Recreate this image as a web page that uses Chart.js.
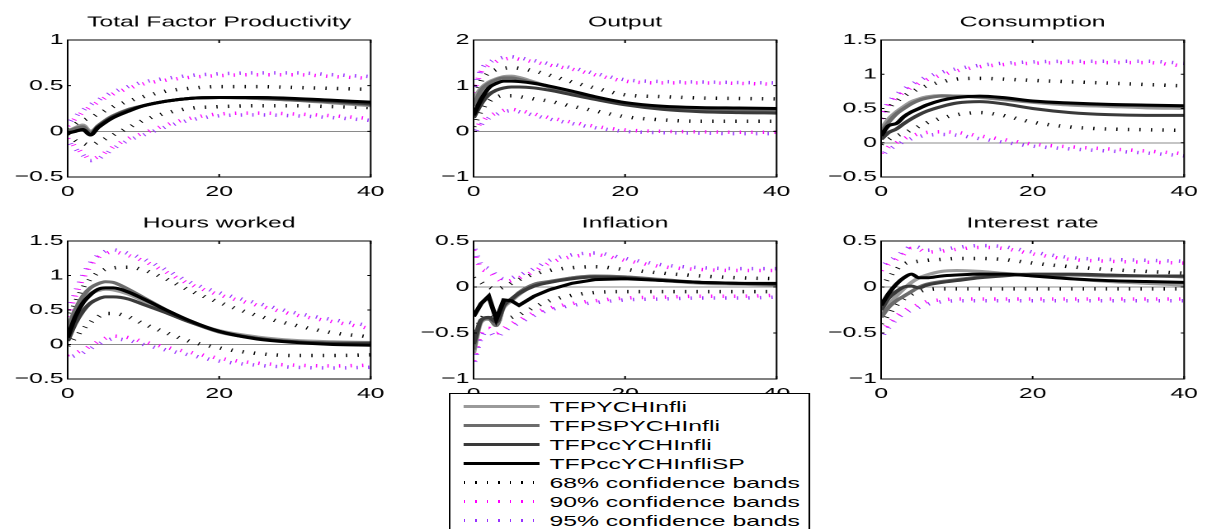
<!DOCTYPE html>
<html>
<head>
<meta charset="utf-8">
<script src="https://cdn.jsdelivr.net/npm/chart.js@4.4.1/dist/chart.umd.min.js"></script>
<style>
  body { margin: 0; background: #fff; overflow: hidden; }
  /* the original figure is stretched sideways, so draw narrow and stretch */
  #fig { position: absolute; left: 0; top: 0; width: 731px; height: 529px; transform: scaleX(1.65); transform-origin: 0 0; }
  .panel { position: absolute; }
  #legend { position: absolute; left: 272px; top: 393px; width: 217px; height: 150px; border: 1px solid #000; background: #fff; font-family: "Liberation Sans", Arial, sans-serif; font-size: 15px; }
  .row { position: absolute; left: 0; height: 19px; }
  .sample { position: absolute; left: 8px; width: 46px; }
  .lbl { position: absolute; left: 60px; top: 0; line-height: 19px; white-space: nowrap; color: #000; }
</style>
</head>
<body>
<div id="fig">
  <div id="legend"></div>
</div>
<script>
const T = [0, 1, 2, 3, 4, 5, 6, 8, 10, 13, 16, 20, 25, 30, 35, 40];

// Total Factor Productivity
const tfpA = [0, 0.04, 0.07, 0.0, 0.05, 0.12, 0.17, 0.23, 0.28, 0.33, 0.36, 0.37, 0.36, 0.34, 0.31, 0.28];
const tfpB = [0, 0.03, 0.05, -0.02, 0.06, 0.12, 0.17, 0.24, 0.28, 0.33, 0.36, 0.37, 0.36, 0.34, 0.32, 0.29];
const tfpC = [-0.02, 0.0, 0.02, -0.04, 0.05, 0.11, 0.16, 0.23, 0.28, 0.33, 0.36, 0.37, 0.37, 0.35, 0.33, 0.3];
const tfpD = [-0.02, 0.0, 0.02, -0.04, 0.04, 0.1, 0.15, 0.22, 0.28, 0.33, 0.36, 0.37, 0.37, 0.36, 0.34, 0.32];
const tfp68Hi = [0.03, 0.08, 0.12, 0.15, 0.19, 0.23, 0.27, 0.33, 0.38, 0.44, 0.47, 0.49, 0.49, 0.48, 0.47, 0.46];
const tfp68Lo = [-0.04, -0.1, -0.13, -0.15, -0.12, -0.08, -0.04, 0.04, 0.12, 0.2, 0.25, 0.27, 0.28, 0.28, 0.27, 0.26];
const tfp90Hi = [0.06, 0.14, 0.21, 0.27, 0.32, 0.37, 0.41, 0.47, 0.52, 0.56, 0.59, 0.61, 0.62, 0.62, 0.6, 0.58];
const tfp90Lo = [-0.08, -0.17, -0.24, -0.3, -0.28, -0.23, -0.17, -0.08, -0.02, 0.07, 0.14, 0.19, 0.2, 0.19, 0.17, 0.14];
const tfp95Hi = [0.08, 0.16, 0.23, 0.29, 0.34, 0.39, 0.43, 0.49, 0.54, 0.58, 0.61, 0.63, 0.64, 0.64, 0.62, 0.6];
const tfp95Lo = [-0.1, -0.19, -0.26, -0.32, -0.3, -0.25, -0.19, -0.1, -0.04, 0.05, 0.12, 0.17, 0.18, 0.17, 0.15, 0.12];

// Output
const outA = [0.7, 0.95, 1.08, 1.15, 1.2, 1.21, 1.18, 1.08, 0.98, 0.85, 0.73, 0.61, 0.53, 0.5, 0.48, 0.47];
const outB = [0.55, 0.9, 1.05, 1.13, 1.17, 1.17, 1.14, 1.06, 0.97, 0.84, 0.72, 0.6, 0.52, 0.49, 0.47, 0.46];
const outC = [0.3, 0.6, 0.8, 0.9, 0.95, 0.97, 0.97, 0.95, 0.9, 0.8, 0.7, 0.58, 0.48, 0.43, 0.41, 0.4];
const outD = [0.35, 0.7, 0.95, 1.05, 1.1, 1.1, 1.09, 1.05, 0.99, 0.88, 0.76, 0.63, 0.55, 0.52, 0.51, 0.5];
const out68Hi = [0.65, 1.1, 1.28, 1.35, 1.38, 1.39, 1.38, 1.32, 1.23, 1.08, 0.95, 0.8, 0.76, 0.73, 0.72, 0.71];
const out68Lo = [0.1, 0.45, 0.65, 0.75, 0.78, 0.78, 0.76, 0.71, 0.66, 0.55, 0.45, 0.32, 0.25, 0.22, 0.22, 0.22];
const out90Hi = [0.85, 1.3, 1.45, 1.53, 1.58, 1.6, 1.58, 1.52, 1.45, 1.36, 1.24, 1.1, 1.06, 1.06, 1.05, 1.03];
const out90Lo = [0.0, 0.2, 0.33, 0.4, 0.46, 0.48, 0.46, 0.38, 0.3, 0.2, 0.11, 0.03, 0.0, -0.01, -0.02, -0.02];
const out95Hi = [0.9, 1.35, 1.5, 1.58, 1.62, 1.63, 1.61, 1.55, 1.48, 1.39, 1.27, 1.13, 1.09, 1.08, 1.07, 1.06];
const out95Lo = [-0.05, 0.15, 0.29, 0.37, 0.43, 0.45, 0.43, 0.35, 0.27, 0.17, 0.08, 0.0, -0.03, -0.04, -0.05, -0.05];

// Consumption
const conA = [0.2, 0.35, 0.45, 0.53, 0.6, 0.64, 0.67, 0.69, 0.68, 0.66, 0.63, 0.59, 0.55, 0.53, 0.51, 0.5];
const conB = [0.15, 0.3, 0.42, 0.5, 0.57, 0.62, 0.65, 0.68, 0.68, 0.67, 0.64, 0.6, 0.57, 0.55, 0.54, 0.53];
const conC = [0.05, 0.15, 0.2, 0.28, 0.35, 0.41, 0.46, 0.53, 0.58, 0.6, 0.57, 0.5, 0.44, 0.41, 0.4, 0.4];
const conD = [0.1, 0.25, 0.28, 0.38, 0.45, 0.5, 0.55, 0.62, 0.66, 0.68, 0.66, 0.61, 0.58, 0.56, 0.55, 0.54];
const con68Hi = [0.25, 0.5, 0.6, 0.68, 0.74, 0.79, 0.83, 0.89, 0.93, 0.94, 0.93, 0.91, 0.89, 0.87, 0.85, 0.83];
const con68Lo = [-0.02, 0.05, 0.1, 0.14, 0.19, 0.24, 0.29, 0.36, 0.41, 0.44, 0.4, 0.3, 0.23, 0.2, 0.19, 0.18];
const con90Hi = [0.35, 0.55, 0.66, 0.74, 0.81, 0.87, 0.92, 0.99, 1.05, 1.11, 1.14, 1.16, 1.17, 1.17, 1.17, 1.12];
const con90Lo = [-0.15, -0.06, 0.0, 0.06, 0.1, 0.13, 0.15, 0.16, 0.15, 0.1, 0.05, -0.02, -0.06, -0.09, -0.12, -0.16];
const con95Hi = [0.4, 0.59, 0.7, 0.78, 0.85, 0.91, 0.96, 1.03, 1.08, 1.13, 1.16, 1.18, 1.19, 1.19, 1.19, 1.16];
const con95Lo = [-0.19, -0.1, -0.04, 0.02, 0.06, 0.09, 0.11, 0.12, 0.11, 0.06, 0.01, -0.05, -0.09, -0.12, -0.15, -0.19];

// Hours worked
const hrsA = [0.25, 0.5, 0.65, 0.74, 0.78, 0.8, 0.79, 0.73, 0.63, 0.48, 0.34, 0.2, 0.11, 0.06, 0.04, 0.03];
const hrsB = [0.2, 0.5, 0.7, 0.82, 0.88, 0.91, 0.9, 0.8, 0.68, 0.5, 0.34, 0.18, 0.09, 0.04, 0.02, 0.01];
const hrsC = [0.05, 0.3, 0.48, 0.6, 0.66, 0.69, 0.69, 0.66, 0.58, 0.46, 0.33, 0.19, 0.09, 0.04, 0.02, 0.02];
const hrsD = [0.1, 0.4, 0.6, 0.72, 0.8, 0.82, 0.82, 0.76, 0.66, 0.5, 0.35, 0.19, 0.08, 0.03, 0.0, -0.01];
const hrs68Hi = [0.35, 0.6, 0.82, 0.95, 1.04, 1.09, 1.11, 1.12, 1.08, 0.95, 0.79, 0.61, 0.42, 0.28, 0.17, 0.11];
const hrs68Lo = [-0.02, 0.1, 0.22, 0.32, 0.4, 0.45, 0.45, 0.4, 0.3, 0.17, 0.05, -0.05, -0.13, -0.16, -0.16, -0.15];
const hrs90Hi = [0.4, 0.7, 0.95, 1.14, 1.26, 1.32, 1.34, 1.29, 1.21, 1.05, 0.88, 0.72, 0.57, 0.43, 0.33, 0.23];
const hrs90Lo = [-0.15, -0.12, -0.08, -0.02, 0.04, 0.09, 0.12, 0.1, 0.04, -0.04, -0.11, -0.2, -0.27, -0.3, -0.31, -0.3];
const hrs95Hi = [0.45, 0.75, 1.0, 1.18, 1.29, 1.35, 1.37, 1.32, 1.24, 1.08, 0.91, 0.75, 0.6, 0.46, 0.36, 0.27];
const hrs95Lo = [-0.19, -0.16, -0.12, -0.06, 0.0, 0.05, 0.08, 0.06, 0.0, -0.08, -0.15, -0.24, -0.3, -0.33, -0.34, -0.33];

// Inflation
const infA = [-0.72, -0.38, -0.35, -0.4, -0.22, -0.15, -0.08, 0.02, 0.05, 0.1, 0.12, 0.11, 0.07, 0.04, 0.03, 0.02];
const infB = [-0.68, -0.36, -0.34, -0.42, -0.2, -0.14, -0.06, 0.03, 0.06, 0.1, 0.12, 0.11, 0.08, 0.05, 0.04, 0.03];
const infC = [-0.62, -0.36, -0.33, -0.38, -0.2, -0.13, -0.07, 0.01, 0.05, 0.09, 0.11, 0.1, 0.07, 0.05, 0.04, 0.03];
const infD = [-0.32, -0.18, -0.1, -0.35, -0.14, -0.15, -0.2, -0.1, -0.03, 0.04, 0.08, 0.09, 0.07, 0.05, 0.04, 0.04];
const inf68Hi = [0.1, 0.05, 0.0, -0.02, 0.0, 0.04, 0.08, 0.14, 0.18, 0.21, 0.22, 0.19, 0.15, 0.12, 0.1, 0.09];
const inf68Lo = [-0.55, -0.35, -0.3, -0.35, -0.35, -0.33, -0.3, -0.22, -0.15, -0.09, -0.06, -0.05, -0.05, -0.05, -0.05, -0.05];
const inf90Hi = [0.4, 0.2, 0.17, 0.1, 0.06, 0.07, 0.1, 0.17, 0.26, 0.33, 0.35, 0.29, 0.22, 0.19, 0.18, 0.18];
const inf90Lo = [-0.8, -0.5, -0.45, -0.5, -0.45, -0.4, -0.36, -0.28, -0.23, -0.18, -0.15, -0.12, -0.11, -0.1, -0.1, -0.09];
const inf95Hi = [0.45, 0.24, 0.2, 0.13, 0.09, 0.1, 0.13, 0.2, 0.29, 0.35, 0.37, 0.31, 0.24, 0.21, 0.2, 0.2];
const inf95Lo = [-0.85, -0.55, -0.49, -0.54, -0.48, -0.43, -0.39, -0.31, -0.25, -0.2, -0.17, -0.14, -0.13, -0.12, -0.12, -0.11];

// Interest rate
const intA = [-0.3, -0.2, -0.1, -0.02, 0.05, 0.1, 0.13, 0.17, 0.18, 0.17, 0.15, 0.13, 0.09, 0.06, 0.04, 0.02];
const intB = [-0.33, -0.22, -0.15, -0.1, -0.05, 0.0, 0.03, 0.06, 0.08, 0.11, 0.13, 0.13, 0.13, 0.12, 0.12, 0.11];
const intC = [-0.25, -0.12, -0.05, 0.0, 0.01, -0.01, 0.02, 0.05, 0.07, 0.1, 0.12, 0.14, 0.14, 0.13, 0.12, 0.12];
const intD = [-0.2, -0.07, 0.03, 0.1, 0.14, 0.1, 0.1, 0.12, 0.13, 0.14, 0.14, 0.12, 0.09, 0.07, 0.06, 0.05];
const int68Hi = [0.0, 0.1, 0.19, 0.25, 0.27, 0.28, 0.29, 0.3, 0.31, 0.31, 0.3, 0.26, 0.22, 0.19, 0.17, 0.15];
const int68Lo = [-0.4, -0.3, -0.2, -0.13, -0.08, -0.05, -0.03, -0.02, -0.02, -0.02, -0.02, -0.02, -0.02, -0.02, -0.02, -0.02];
const int90Hi = [0.18, 0.25, 0.3, 0.36, 0.42, 0.41, 0.38, 0.39, 0.41, 0.43, 0.42, 0.36, 0.3, 0.28, 0.27, 0.26];
const int90Lo = [-0.5, -0.4, -0.32, -0.26, -0.22, -0.19, -0.16, -0.14, -0.13, -0.13, -0.13, -0.13, -0.13, -0.13, -0.13, -0.13];
const int95Hi = [0.22, 0.28, 0.33, 0.39, 0.44, 0.43, 0.4, 0.41, 0.43, 0.45, 0.44, 0.38, 0.32, 0.3, 0.29, 0.28];
const int95Lo = [-0.55, -0.44, -0.35, -0.29, -0.25, -0.22, -0.19, -0.16, -0.15, -0.15, -0.15, -0.15, -0.15, -0.15, -0.15, -0.15];

const seriesNames = ['TFPYCHInfli', 'TFPSPYCHInfli', 'TFPccYCHInfli', 'TFPccYCHInfliSP'];
const bandNames = ['68% confidence bands', '90% confidence bands', '95% confidence bands'];

const lineColors = ['#9a9a9a', '#6c6c6c', '#3a3a3a', '#000000'];
const bandColors = ['#000000', '#ff00ff', '#9933ff'];

Chart.defaults.font.family = '"Liberation Sans", Arial, sans-serif';
Chart.defaults.font.size = 15;
Chart.defaults.color = '#000';

// axes box with inward ticks, matlab style
const boxPlugin = {
  id: 'mbox',
  afterDraw(chart) {
    const ctx = chart.ctx, a = chart.chartArea;
    const xs = chart.scales.x, ys = chart.scales.y;
    ctx.save();
    ctx.strokeStyle = '#000';
    ctx.lineWidth = 1;
    ctx.strokeRect(a.left, a.top, a.right - a.left, a.bottom - a.top);
    ctx.beginPath();
    xs.ticks.forEach(function (t) {
      let px = xs.getPixelForValue(t.value);
      ctx.moveTo(px, a.bottom); ctx.lineTo(px, a.bottom - 3);
      ctx.moveTo(px, a.top); ctx.lineTo(px, a.top + 3);
    });
    ys.ticks.forEach(function (t) {
      let py = ys.getPixelForValue(t.value);
      ctx.moveTo(a.left, py); ctx.lineTo(a.left + 2, py);
      ctx.moveTo(a.right, py); ctx.lineTo(a.right - 2, py);
    });
    ctx.stroke();
    ctx.restore();
  }
};

function pts(arr) {
  return arr.map(function (v, i) { return { x: T[i], y: v }; });
}

function makePanel(left, top, height, title, yMin, yMax, yStep, lines, bands, jagged) {
  let div = document.createElement('div');
  div.className = 'panel';
  div.setAttribute('style', 'left:' + left + 'px; top:' + top + 'px; width:234px; height:' + height + 'px;');
  let cv = document.createElement('canvas');
  div.appendChild(cv);
  document.getElementById('fig').insertBefore(div, document.getElementById('legend'));

  let datasets = [];
  // confidence bands first (drawn underneath); short thick dashes look like matlab ':'
  bands.forEach(function (b, i) {
    let k = Math.floor(i / 2);
    datasets.push({
      label: bandNames[k],
      data: pts(b),
      borderColor: bandColors[k],
      borderWidth: 3.5,
      borderDash: [0.8, 6.2],
      borderDashOffset: k === 2 ? 3.5 : 0,
      pointRadius: 0,
      fill: false,
      cubicInterpolationMode: 'monotone',
      order: 10 + k
    });
  });
  lines.forEach(function (l, i) {
    datasets.push({
      label: seriesNames[i],
      data: pts(l),
      borderColor: lineColors[i],
      borderWidth: 3,
      pointRadius: 0,
      fill: false,
      cubicInterpolationMode: (jagged && i === 3) ? 'default' : 'monotone',
      tension: (jagged && i === 3) ? 0 : 0.4,
      order: 4 - i
    });
  });

  new Chart(cv, {
    type: 'line',
    data: { datasets: datasets },
    options: {
      responsive: true,
      maintainAspectRatio: false,
      animation: false,
      devicePixelRatio: 2,
      layout: { padding: { left: 0, right: 10, top: 0, bottom: 0 } },
      plugins: {
        legend: { display: false },
        tooltip: { enabled: false },
        title: {
          display: true, text: title, fullSize: false,
          font: { size: 15, weight: 'normal' },
          padding: { top: 13.5, bottom: 8.5 }
        }
      },
      scales: {
        x: {
          type: 'linear', min: 0, max: 40,
          grid: { display: false, drawTicks: false },
          border: { display: false },
          ticks: { stepSize: 20, padding: 6, maxRotation: 0 },
          afterFit: function (s) { s.height = 22; }
        },
        y: {
          min: yMin, max: yMax,
          grid: {
            drawTicks: false,
            lineWidth: 1,
            color: function (c) { return (c.tick && c.tick.value === 0) ? '#8a8a8a' : 'rgba(0,0,0,0)'; }
          },
          border: { display: false },
          ticks: {
            stepSize: yStep, padding: 2.5,
            callback: function (v) { return String(v).replace('-', '\u2212'); }
          },
          afterFit: function (s) { s.width = 36; }
        }
      }
    },
    plugins: [boxPlugin]
  });
}

// top row
makePanel(4.6, 0, 199, 'Total Factor Productivity', -0.5, 1, 0.5,
  [tfpA, tfpB, tfpC, tfpD], [tfp68Hi, tfp68Lo, tfp90Hi, tfp90Lo, tfp95Hi, tfp95Lo]);
makePanel(251.3, 0, 199, 'Output', -1, 2, 1,
  [outA, outB, outC, outD], [out68Hi, out68Lo, out90Hi, out90Lo, out95Hi, out95Lo]);
makePanel(497.9, 0, 199, 'Consumption', -0.5, 1.5, 0.5,
  [conA, conB, conC, conD], [con68Hi, con68Lo, con90Hi, con90Lo, con95Hi, con95Lo]);
// bottom row
makePanel(4.6, 201, 200, 'Hours worked', -0.5, 1.5, 0.5,
  [hrsA, hrsB, hrsC, hrsD], [hrs68Hi, hrs68Lo, hrs90Hi, hrs90Lo, hrs95Hi, hrs95Lo]);
makePanel(251.3, 201, 200, 'Inflation', -1, 0.5, 0.5,
  [infA, infB, infC, infD], [inf68Hi, inf68Lo, inf90Hi, inf90Lo, inf95Hi, inf95Lo], true);
makePanel(497.9, 201, 200, 'Interest rate', -1, 0.5, 0.5,
  [intA, intB, intC, intD], [int68Hi, int68Lo, int90Hi, int90Lo, int95Hi, int95Lo]);

// legend box under the middle column
let leg = document.getElementById('legend');
let allNames = seriesNames.concat(bandNames);
allNames.forEach(function (name, i) {
  let row = document.createElement('div');
  row.className = 'row';
  row.style.top = (3 + i * 19) + 'px';
  row.style.width = '100%';
  let s = document.createElement('div');
  s.className = 'sample';
  if (i < 4) {
    s.style.top = '8px';
    s.style.height = '3px';
    s.style.background = lineColors[i];
  } else {
    let c = bandColors[i - 4];
    s.style.top = '8px';
    s.style.height = '3px';
    s.style.background = 'repeating-linear-gradient(to right, ' + c + ' 0px, ' + c + ' 0.8px, transparent 0.8px, transparent 7px)';
  }
  let t = document.createElement('div');
  t.className = 'lbl';
  t.innerHTML = name;
  row.appendChild(s);
  row.appendChild(t);
  leg.appendChild(row);
});
</script>
</body>
</html>
